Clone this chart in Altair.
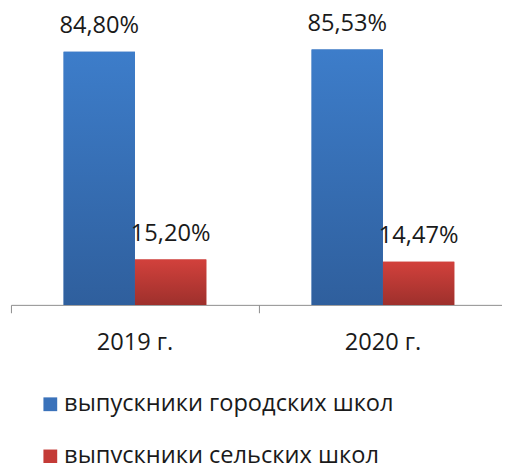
import altair as alt
import pandas as pd

years = ["2019 г.", "2020 г."]
series = ["выпускники городских школ", "выпускники сельских школ"]
urban = [84.80, 85.53]
rural = [15.20, 14.47]

rows = []
for i, yr in enumerate(years):
    for j, (s, vals) in enumerate(zip(series, [urban, rural])):
        v = vals[i]
        rows.append({"year": yr, "idx": i, "sidx": j, "series": s, "value": v,
                     "label": f"{v:.2f}".replace(".", ",") + "%"})
df = pd.DataFrame(rows)
cats = pd.DataFrame({"year": years, "idx": list(range(len(years)))})

FONT = "Open Sans"
BLUE = "#3a72ba"
RED = "#c43b37"
W, H = 499, 273
STEP = 252.0           # pixel width of one category band
OUTER = 53.5 / STEP    # gap before first bar within band
BARW = 72.5 / STEP     # bar width as fraction of band

xscale = alt.Scale(domain=[0, W / STEP], nice=False, zero=False)
yscale = alt.Scale(domain=[0, 90], nice=False, zero=True)
xaxis = alt.Axis(title=None, values=[0, 1, 2], labels=False, tickSize=8,
                 domainColor="#8c8c8c", tickColor="#8c8c8c", grid=False)

base = alt.Chart(df).transform_calculate(
    x0=f"datum.idx + {OUTER} + datum.sidx * {BARW}",
    x1=f"datum.idx + {OUTER} + (datum.sidx + 1) * {BARW}",
    xm=f"datum.idx + {OUTER} + (datum.sidx + 0.5) * {BARW}",
)

bars = base.mark_bar().encode(
    x=alt.X("x0:Q", scale=xscale, axis=xaxis),
    x2="x1:Q",
    y=alt.Y("value:Q", scale=yscale, axis=None),
    y2=alt.Y2(datum=0),
    color=alt.Color("series:N", sort=series,
                    scale=alt.Scale(domain=series, range=[BLUE, RED]),
                    legend=alt.Legend(orient="none", legendX=28, legendY=362,
                                      direction="vertical", title=None,
                                      symbolType="square", symbolSize=196,
                                      symbolStrokeWidth=0, labelFontSize=24,
                                      labelFont=FONT, labelColor="#1a1a1a",
                                      rowPadding=29, labelOffset=2, padding=0,
                                      labelLimit=600))
)

grad_blue = alt.Gradient(gradient="linear",
                         stops=[alt.GradientStop(color="#3d7dca", offset=0),
                                alt.GradientStop(color="#2f5f9d", offset=1)],
                         x1=0, x2=0, y1=0, y2=1)
grad_red = alt.Gradient(gradient="linear",
                        stops=[alt.GradientStop(color="#d2413c", offset=0),
                               alt.GradientStop(color="#9e302c", offset=1)],
                        x1=0, x2=0, y1=0, y2=1)

def grad_layer(name, grad):
    return base.transform_filter(alt.datum.series == name).mark_bar(fill=grad).encode(
        x=alt.X("x0:Q", scale=xscale, axis=xaxis), x2="x1:Q",
        y=alt.Y("value:Q", scale=yscale, axis=None),
        y2=alt.Y2(datum=0))

labels = base.mark_text(baseline="bottom", dy=-14, fontSize=24, font=FONT,
                        color="#1a1a1a").encode(
    x=alt.X("xm:Q", scale=xscale, axis=xaxis),
    y=alt.Y("value:Q", scale=yscale, axis=None),
    text="label:N")

cat_labels = alt.Chart(cats).transform_calculate(
    xc="datum.idx + 0.5"
).mark_text(baseline="top", dy=27, fontSize=24, font=FONT, color="#1a1a1a").encode(
    x=alt.X("xc:Q", scale=xscale, axis=xaxis),
    y=alt.Y(datum=0, scale=yscale, axis=None),
    text="year:N")

chart = alt.layer(bars, grad_layer(series[0], grad_blue), grad_layer(series[1], grad_red),
                  labels, cat_labels).properties(
    width=W, height=H,
    padding={"left": 3, "top": 25, "right": 0, "bottom": 157},
    autosize="none",
).configure_view(stroke=None)

chart.save("out.html", embed_options={"renderer": "svg", "actions": False})
